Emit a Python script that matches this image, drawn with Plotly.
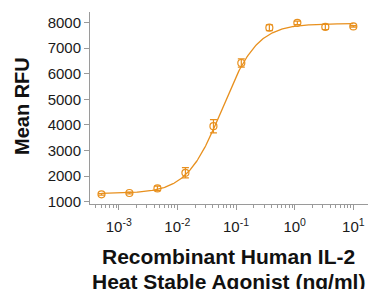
import numpy as np
import plotly.graph_objects as go

# Data
conc = [0.000508, 0.00152, 0.00457, 0.0137, 0.0412, 0.123, 0.370, 1.11, 3.33, 10.0]
rfu = [1290, 1340, 1520, 2130, 3950, 6420, 7800, 7990, 7830, 7850]
err = [30, 35, 90, 200, 260, 160, 115, 65, 100, 30]

# 4-parameter logistic fit parameters (estimated)
fit_bottom = 1320
fit_top = 7960
fit_ec50 = 0.058
fit_hill = 1.45

x_tick_vals = [1e-3, 1e-2, 1e-1, 1e0, 1e1]
x_tick_text = ["10<sup>-3</sup>", "10<sup>-2</sup>", "10<sup>-1</sup>", "10<sup>0</sup>", "10<sup>1</sup>"]
y_tick_vals = [1000, 2000, 3000, 4000, 5000, 6000, 7000, 8000]

x_title_lines = ["Recombinant Human IL-2", "Heat Stable Agonist (ng/ml)"]
y_title = "Mean RFU"

color = "#E8901E"

xs = np.logspace(np.log10(conc[0]), np.log10(conc[-1]), 300)
ys = fit_bottom + (fit_top - fit_bottom) / (1 + (fit_ec50 / xs) ** fit_hill)

fig = go.Figure()
fig.add_trace(go.Scatter(x=xs, y=ys, mode="lines",
                         line=dict(color=color, width=1.3), hoverinfo="skip",
                         showlegend=False))
fig.add_trace(go.Scatter(x=conc, y=rfu, mode="markers",
                         marker=dict(symbol="circle-open", size=7, color=color,
                                     line=dict(width=1.2, color=color)),
                         error_y=dict(type="data", array=err, visible=True,
                                      color=color, thickness=1.2, width=3.5),
                         showlegend=False))

axis_color = "#9a9a9a"
plot_h = 289 - 12 - 85

def py(pix):
    # convert pixel y (from top) to paper coordinate
    return (289 - 85 - pix) / plot_h

fig.update_layout(
    width=368, height=289,
    margin=dict(l=90, r=0, t=12, b=85),
    paper_bgcolor="white", plot_bgcolor="white",
    font=dict(family="Liberation Sans, Arial, sans-serif", color="#1a1a1a"),
    xaxis=dict(
        type="log", range=[-3.49, 1.25],
        tickvals=x_tick_vals, ticktext=x_tick_text,
        ticks="outside", ticklen=5, tickcolor=axis_color, tickwidth=1,
        minor=dict(ticks="outside", ticklen=3, tickcolor=axis_color, tickwidth=1,
                   dtick="D1", showgrid=False),
        showline=True, linecolor=axis_color, linewidth=1,
        showgrid=False, zeroline=False, automargin=False,
        ticklabelstandoff=4,
        tickfont=dict(size=15, color="#1a1a1a"),
    ),
    yaxis=dict(
        range=[910, 8414],
        tickvals=y_tick_vals,
        ticks="outside", ticklen=5, tickcolor=axis_color, tickwidth=1,
        showline=True, linecolor=axis_color, linewidth=1,
        showgrid=False, zeroline=False, automargin=False,
        tickfont=dict(size=15, color="#1a1a1a"),
    ),
)

fig.add_annotation(text="<b>%s</b>" % y_title, xref="paper", yref="paper",
                   x=(22 - 90) / 278, y=py(106), xanchor="center", yanchor="middle",
                   textangle=-90, showarrow=False,
                   font=dict(size=20, color="#111111"))
fig.add_annotation(text="<b>%s</b>" % x_title_lines[0], xref="paper", yref="paper",
                   x=0.497, y=py(256), xanchor="center", yanchor="middle",
                   showarrow=False, font=dict(size=21, color="#111111"))
fig.add_annotation(text="<b>%s</b>" % x_title_lines[1], xref="paper", yref="paper",
                   x=0.497, y=py(281), xanchor="center", yanchor="middle",
                   showarrow=False, font=dict(size=21, color="#111111"))

fig.write_html("out.html", config={"displayModeBar": False},
               post_script="document.body.style.margin='0';document.body.style.overflow='hidden';")
